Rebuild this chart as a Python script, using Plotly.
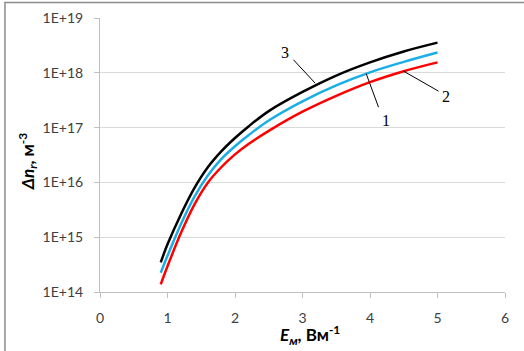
import plotly.graph_objects as go

# Field strength E_m, V/m
E = [0.9, 1.0, 1.2, 1.4, 1.6, 1.8, 2.0, 2.2, 2.5, 3.0, 3.5, 4.0, 4.5, 5.0]

# Curve 1 (blue)
n1 = [2.24e14, 4.57e14, 1.74e15, 5.50e15, 1.35e16, 2.69e16, 4.57e16,
      7.24e16, 1.35e17, 3.02e17, 5.89e17, 1.02e18, 1.58e18, 2.34e18]
# Curve 2 (red)
n2 = [1.38e14, 2.95e14, 1.20e15, 3.98e15, 1.00e16, 1.91e16, 3.24e16,
      5.01e16, 8.71e16, 1.95e17, 3.80e17, 6.76e17, 1.07e18, 1.55e18]
# Curve 3 (black)
n3 = [3.47e14, 7.41e14, 2.63e15, 7.94e15, 1.91e16, 3.72e16, 6.46e16,
      1.05e17, 2.00e17, 4.47e17, 8.91e17, 1.55e18, 2.45e18, 3.55e18]

y_tickvals = [1e14, 1e15, 1e16, 1e17, 1e18, 1e19]
y_ticktext = ["1E+14", "1E+15", "1E+16", "1E+17", "1E+18", "1E+19"]
x_tickvals = [0, 1, 2, 3, 4, 5, 6]

fig = go.Figure()
fig.add_trace(go.Scatter(x=E, y=n2, mode="lines", line=dict(color="#FF0000", width=2.5, shape="spline")))
fig.add_trace(go.Scatter(x=E, y=n1, mode="lines", line=dict(color="#1AAEE6", width=2.5, shape="spline")))
fig.add_trace(go.Scatter(x=E, y=n3, mode="lines", line=dict(color="#000000", width=2.5, shape="spline")))

tickfont = dict(family="Lato, 'Open Sans', sans-serif", size=14, color="#404040")

fig.update_layout(
    width=524, height=351,
    margin=dict(l=100, r=19, t=18, b=59, autoexpand=False),
    paper_bgcolor="white", plot_bgcolor="white",
    showlegend=False,
    xaxis=dict(range=[0, 6], tickvals=x_tickvals, showgrid=False,
               showline=True, linecolor="#BFBFBF", linewidth=1,
               ticks="outside", ticklen=5, tickcolor="#BFBFBF",
               ticklabelstandoff=8,
               tickfont=tickfont, zeroline=False),
    yaxis=dict(type="log", range=[14, 19], tickvals=y_tickvals, ticktext=y_ticktext,
               showgrid=True, gridcolor="#D9D9D9", gridwidth=1,
               showline=True, linecolor="#BFBFBF", linewidth=1,
               ticks="outside", ticklen=5, tickcolor="#BFBFBF",
               ticklabelstandoff=8,
               tickfont=tickfont, zeroline=False),
)

# outer chart frame
fig.add_shape(type="rect", xref="paper", yref="paper",
              x0=-0.2347, x1=1.08, y0=-0.25, y1=1.0565,
              line=dict(color="#8C8C8C", width=1.5), layer="below")

# axis titles
titlefont = dict(family="Lato, 'Open Sans', sans-serif", size=17, color="#000000")
fig.add_annotation(xref="paper", yref="paper", x=-0.178, y=0.477, textangle=-90,
                   xanchor="center", yanchor="middle",
                   showarrow=False, font=titlefont,
                   text="<b><i>Δn</i><sub><i>r</i></sub>, м<sup>-3</sup></b>")
fig.add_annotation(xref="paper", yref="paper", x=0.519, y=-0.158,
                   xanchor="center", yanchor="middle",
                   showarrow=False, font=titlefont,
                   text="<b><i>E</i><sub><i>м</i></sub>, Вм<sup>-1</sup></b>")

# curve labels with leader lines (paper coordinates)
labfont = dict(family="'Liberation Serif', serif", size=16, color="#000000")
labels = [("3", 0.4571, 0.8753, (0.4776, 0.8476), (0.5313, 0.7622)),
          ("1", 0.7067, 0.6262, (0.6573, 0.7965), (0.6877, 0.6747)),
          ("2", 0.8550, 0.7148, (0.7495, 0.8060), (0.8359, 0.7330))]
for txt, lx, ly, p0, p1 in labels:
    fig.add_annotation(x=lx, y=ly, xref="paper", yref="paper", text=txt,
                       xanchor="center", yanchor="middle",
                       showarrow=False, font=labfont)
    fig.add_shape(type="line", xref="paper", yref="paper", x0=p0[0], y0=p0[1],
                  x1=p1[0], y1=p1[1], line=dict(color="#000000", width=1))

fig.write_html("out.html", config={"displayModeBar": False},
               post_script="document.body.style.margin='0';")
